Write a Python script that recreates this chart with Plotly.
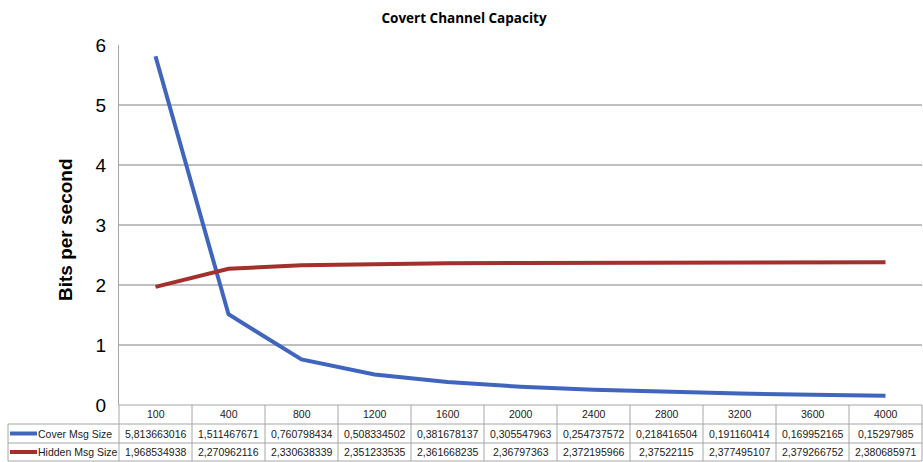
import plotly.graph_objects as go

categories = ["100", "400", "800", "1200", "1600", "2000", "2400", "2800", "3200", "3600", "4000"]
cover_msg = [5.813663016, 1.511467671, 0.760798434, 0.508334502, 0.381678137, 0.305547963,
             0.254737572, 0.218416504, 0.191160414, 0.169952165, 0.15297985]
hidden_msg = [1.968534938, 2.270962116, 2.330638339, 2.351233535, 2.361668235, 2.36797363,
              2.372195966, 2.37522115, 2.377495107, 2.379266752, 2.380685971]
series_names = ["Cover Msg Size", "Hidden Msg Size"]
colors = ["#4065BE", "#A2302C"]

W, H = 923, 462
L, R, T, B = 119, 922, 45, 405  # plot area in pixels


def px(xp):
    return (xp - L) / (R - L)


def py(yp):
    return (B - yp) / (B - T)


fig = go.Figure()
for name, vals, c in zip(series_names, [cover_msg, hidden_msg], colors):
    fig.add_trace(go.Scatter(x=categories, y=vals, mode="lines", name=name,
                             line=dict(color=c, width=4), showlegend=False))

shapes = []
annotations = []
grid_c = "#A6A6A6"
n = len(categories)
row_tops = [405, 424, 443, 461]
shapes.append(dict(type="line", xref="paper", yref="paper", x0=px(L), x1=px(R), y0=py(405), y1=py(405),
                   line=dict(color=grid_c, width=1)))
for yy in row_tops[1:]:
    shapes.append(dict(type="line", xref="paper", yref="paper", x0=px(8), x1=px(R), y0=py(yy), y1=py(yy),
                       line=dict(color=grid_c, width=1)))
for i in range(n + 1):
    xx = L + i * (R - L) / n
    shapes.append(dict(type="line", xref="paper", yref="paper", x0=px(xx), x1=px(xx), y0=py(405), y1=py(461),
                       line=dict(color=grid_c, width=1)))
shapes.append(dict(type="line", xref="paper", yref="paper", x0=px(8), x1=px(8), y0=py(424), y1=py(461),
                   line=dict(color=grid_c, width=1)))

tfont = dict(family="Liberation Sans, Arial", size=10.5, color="#1a1a1a")
for i, cat in enumerate(categories):
    annotations.append(dict(x=i, xref="x", y=py(414.5), yref="paper", text=cat, showarrow=False,
                            font=tfont, xanchor="center", yanchor="middle"))
for r, (name, vals, c) in enumerate(zip(series_names, [cover_msg, hidden_msg], colors)):
    yc = (row_tops[r + 1] + row_tops[r + 2]) / 2
    for i, v in enumerate(vals):
        annotations.append(dict(x=i, xref="x", y=py(yc), yref="paper", text=str(v).replace(".", ","),
                                showarrow=False, font=tfont, xanchor="center", yanchor="middle"))
    shapes.append(dict(type="line", xref="paper", yref="paper", x0=px(10), x1=px(37), y0=py(yc), y1=py(yc),
                       line=dict(color=c, width=4)))
    annotations.append(dict(x=px(36), xref="paper", y=py(yc), yref="paper", text=name, showarrow=False,
                            font=tfont, xanchor="left", yanchor="middle"))

annotations.append(dict(x=px(66), xref="paper", y=py(230), yref="paper", text="<b>Bits per second</b>",
                        textangle=-90, showarrow=False,
                        font=dict(family="Liberation Sans, Arial", size=19, color="#000"),
                        xanchor="center", yanchor="middle"))

fig.update_layout(
    width=W, height=H,
    margin=dict(l=L, r=W - R, t=T, b=H - B),
    paper_bgcolor="white", plot_bgcolor="white",
    title=dict(text="<b>Covert Channel Capacity</b>", x=464 / W, xref="container", xanchor="center",
               y=1 - 18 / H, yref="container", yanchor="middle",
               font=dict(family="Open Sans, Liberation Sans", size=13.5, color="#000")),
    xaxis=dict(type="category", range=[-0.5, n - 0.5], showgrid=False, showticklabels=False,
               showline=False, zeroline=False, fixedrange=True),
    yaxis=dict(range=[0, 6], dtick=1, showgrid=True, gridcolor="#BFBFBF", gridwidth=1.5,
               showline=True, linecolor="#A6A6A6", linewidth=1, zeroline=False,
               ticks="", ticklabelstandoff=8,
               tickfont=dict(family="Liberation Sans, Arial", size=19, color="#000")),
    shapes=shapes, annotations=annotations,
)

fig.write_html("out.html", config={"displayModeBar": False},
               post_script="document.body.style.margin='0';")
